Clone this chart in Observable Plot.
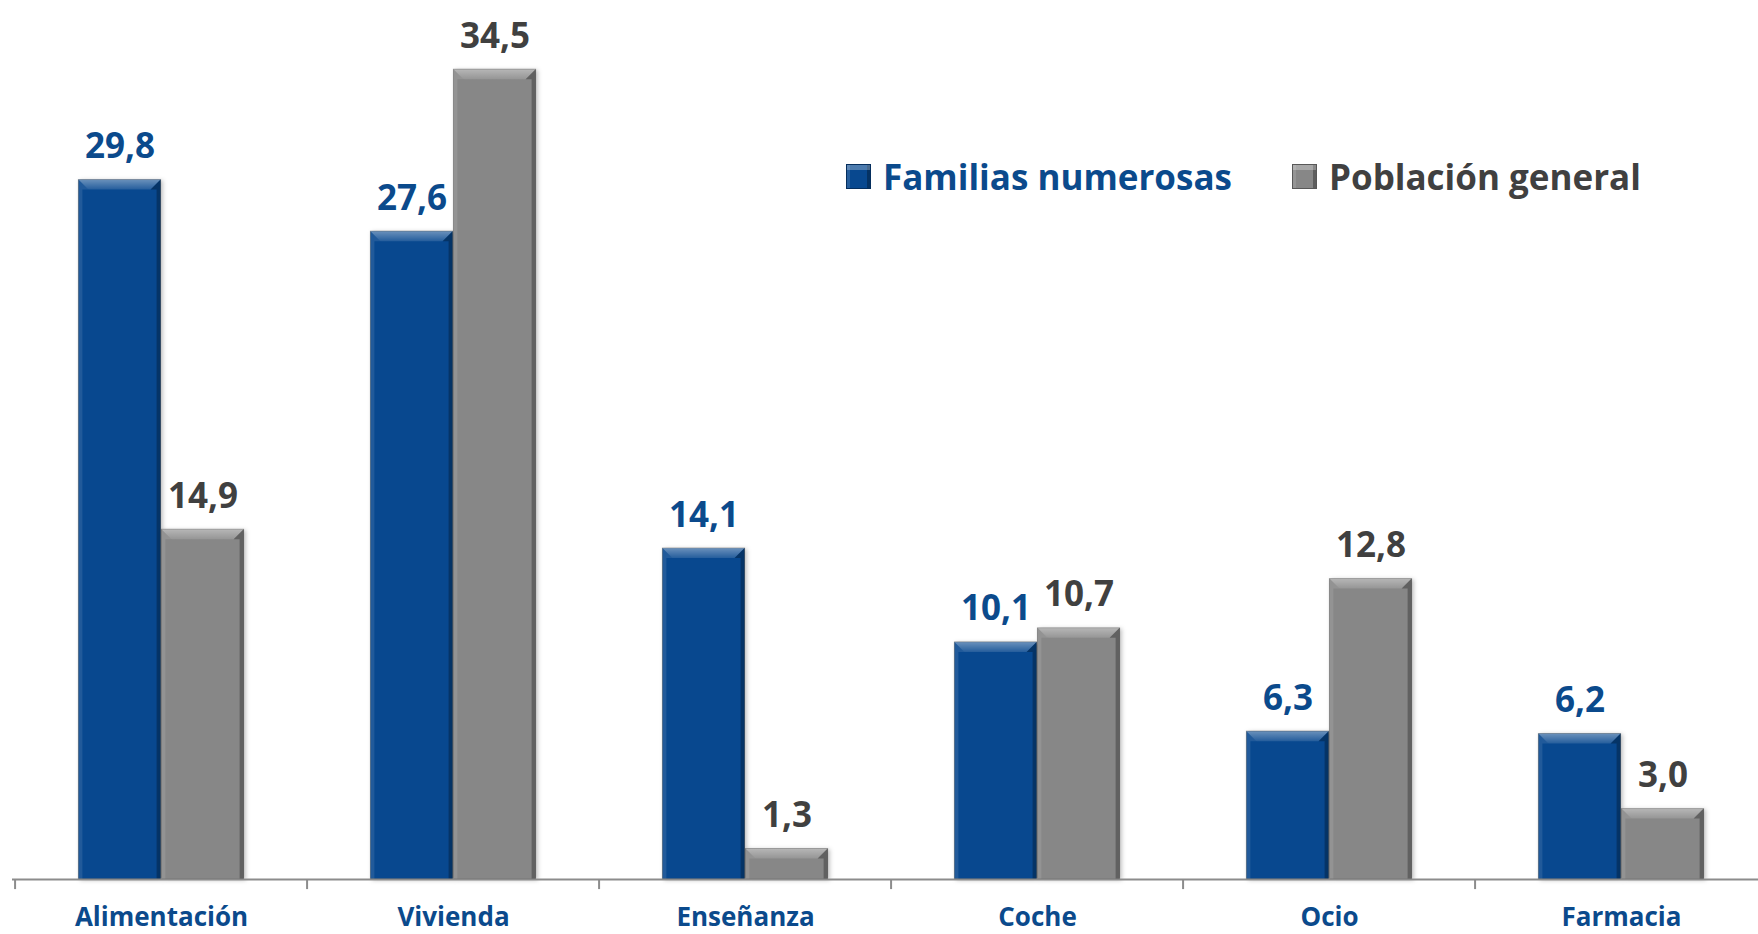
<!DOCTYPE html>
<html>
<head>
<meta charset="utf-8">
<script src="https://cdn.jsdelivr.net/npm/d3@7"></script>
<script src="https://cdn.jsdelivr.net/npm/@observablehq/plot@0.6"></script>
<style>
  html, body { margin: 0; padding: 0; background: #fff; }
  #wrap { position: relative; width: 1758px; height: 934px; font-family: "Open Sans", Lato, sans-serif; }
  .leg { position: absolute; top: 158px; height: 36px; display: flex; align-items: center; font-weight: 700; font-size: 35px; white-space: nowrap; }
  .sw { width: 25px; height: 25px; margin-right: 12px; box-sizing: border-box; border: 1px solid rgba(0,0,0,0.35);
        box-shadow: inset 0 5px 0 rgba(255,255,255,0.28), inset -3px 0 0 rgba(0,0,0,0.3), inset 3px 0 0 rgba(255,255,255,0.12); }
</style>
</head>
<body>
<div id="wrap"></div>
<script>
// ---- data ----
const categories = ["Alimentación", "Vivienda", "Enseñanza", "Coche", "Ocio", "Farmacia"];
const series = ["Familias numerosas", "Población general"];
const familias = [29.8, 27.6, 14.1, 10.1, 6.3, 6.2];
const poblacion = [14.9, 34.5, 1.3, 10.7, 12.8, 3.0];

// ---- style ----
const colors = ["#08488F", "#878787"];
const labelColors = ["#0B4A8C", "#404040"];
const W = 1758, H = 934, mL = 12, mR = -11, mT = 34, mB = 55;
const step = (W - mL - mR) / categories.length;
const barW = step * 0.2835;
const padOut = (step - 2 * barW) / 2;

const rows = [familias, poblacion].map((vals, s) =>
  categories.map((c, i) => ({category: c, series: series[s], value: vals[i]})));
const fmt = v => d3.format(".1f")(v).replace(".", ",");

const marks = [];
rows.forEach((data, s) => {
  marks.push(Plot.barY(data, {
    x: "category", y: "value", fill: colors[s],
    insetLeft: s === 0 ? padOut : padOut + barW,
    insetRight: s === 0 ? padOut + barW : padOut
  }));
  marks.push(Plot.text(data, {
    x: "category", y: "value", text: d => fmt(d.value),
    dx: s === 0 ? -barW / 2 : barW / 2, dy: -22, lineAnchor: "bottom",
    fill: labelColors[s], fontSize: 35, fontWeight: 700
  }));
});

const chart = Plot.plot({
  width: W, height: H,
  marginLeft: mL, marginRight: mR, marginTop: mT, marginBottom: mB,
  style: {fontFamily: "'Open Sans', Lato, sans-serif", background: "#fff"},
  x: {domain: categories, padding: 0, label: null},
  y: {domain: [0, 36], axis: null},
  marks: [
    ...marks,
    Plot.ruleY([0], {stroke: "#8c8c8c", strokeWidth: 2}),
    Plot.ruleX(categories, {x: d => d, y1: 0, y2: -0.43, dx: -step / 2, stroke: "#8c8c8c", strokeWidth: 2}),
    Plot.ruleX(categories.slice(-1), {x: d => d, y1: 0, y2: -0.43, dx: step / 2, stroke: "#8c8c8c", strokeWidth: 2}),
    Plot.axisX({tickSize: 0, tickPadding: 28, fontSize: 26, fontWeight: 700, color: "#0B4A8C", label: null})
  ]
});

// bevel decoration derived from rendered bars
const svg = d3.select(chart);
const defs = svg.insert("defs", ":first-child");
const g = defs.append("linearGradient").attr("id", "topbev").attr("x1", 0).attr("x2", 0).attr("y1", 0).attr("y2", 1);
g.append("stop").attr("offset", "0").attr("stop-color", "#fff").attr("stop-opacity", 0.4);
g.append("stop").attr("offset", "1").attr("stop-color", "#fff").attr("stop-opacity", 0.12);
svg.selectAll("g[aria-label='bar'] rect").each(function() {
  const r = d3.select(this);
  const x = +r.attr("x"), y = +r.attr("y"), w = +r.attr("width"), h = +r.attr("height");
  const par = d3.select(this.parentNode);
  const b = Math.min(10, h / 2), s = 4;
  r.attr("stroke", "rgba(0,0,0,0.3)").attr("stroke-width", 1);
  par.append("polygon").attr("points", [[x, y], [x + w, y], [x + w - b, y + b], [x + b, y + b]].join(" ")).attr("fill", "url(#topbev)");
  par.append("polygon").attr("points", [[x + w, y], [x + w - b, y + b], [x + w - s, y + b], [x + w - s, y + h], [x + w, y + h]].join(" ")).attr("fill", "rgba(0,0,0,0.28)");
  par.append("polygon").attr("points", [[x, y], [x + b, y + b], [x + s, y + b], [x + s, y + h], [x, y + h]].join(" ")).attr("fill", "rgba(255,255,255,0.1)");
});
svg.selectAll("g[aria-label='bar']").style("filter", "drop-shadow(2px 1px 2px rgba(0,0,0,0.25))");

const wrap = document.getElementById("wrap");
wrap.appendChild(chart);

// legend
const legPos = [846, 1292];
series.forEach((name, s) => {
  const item = document.createElement("div");
  item.className = "leg";
  item.style.left = legPos[s] + "px";
  item.style.color = labelColors[s];
  const sw = document.createElement("span");
  sw.className = "sw";
  sw.style.background = colors[s];
  item.appendChild(sw);
  item.appendChild(document.createTextNode(name));
  wrap.appendChild(item);
});
</script>
</body>
</html>
